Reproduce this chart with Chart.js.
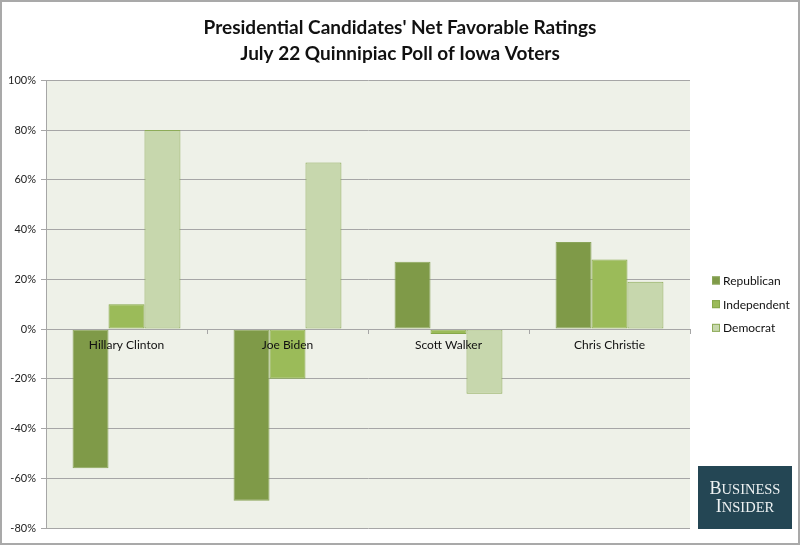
<!DOCTYPE html>
<html>
<head>
<meta charset="utf-8">
<script src="https://cdn.jsdelivr.net/npm/chart.js@4"></script>
<style>
    html, body { margin: 0; padding: 0; background: #ffffff; }
    #wrap { width: 800px; height: 545px; }
</style>
</head>
<body>
<div id="wrap"><canvas id="grafico" width="800" height="545"></canvas></div>
<script>
const candidatos = ['Hillary Clinton', 'Joe Biden', 'Scott Walker', 'Chris Christie'];
const republicanos = [-56, -69, 27, 35];
const independentes = [10, -20, -2, 28];
const democratas = [80, 67, -26, 19];
const ticksY = [-80, -60, -40, -20, 0, 20, 40, 60, 80, 100];
const titulo = ["Presidential Candidates' Net Favorable Ratings", 'July 22 Quinnipiac Poll of Iowa Voters'];

const fonte = 'Lato, "Open Sans", sans-serif';

const fundoPlot = {
    id: 'fundoPlot',
    beforeDraw(chart) {
        const area = chart.chartArea;
        const ctx = chart.ctx;
        ctx.save();
        ctx.fillStyle = '#eef1e8';
        ctx.fillRect(area.left, area.top, area.right - area.left, area.bottom - area.top);
        ctx.restore();
    }
};

// legenda desenhada à direita, centrada na área do gráfico
const legendaLateral = {
    id: 'legendaLateral',
    afterDraw(chart) {
        const ctx = chart.ctx;
        const area = chart.chartArea;
        const sets = chart.data.datasets;
        const passo = 23.7;
        const x = area.right + 22;
        let y = (area.top + area.bottom) / 2 - passo * (sets.length - 1) / 2;
        ctx.save();
        ctx.font = '12px ' + fonte;
        ctx.textBaseline = 'middle';
        sets.forEach(function (ds) {
            ctx.fillStyle = ds.backgroundColor;
            ctx.fillRect(x, y - 4, 8, 8);
            ctx.strokeStyle = ds.borderColor;
            ctx.lineWidth = 1;
            ctx.strokeRect(x + 0.5, y - 3.5, 7, 7);
            ctx.fillStyle = '#111111';
            ctx.fillText(ds.label, x + 11, y + 0.5);
            y += passo;
        });
        ctx.restore();
    }
};

const moldura = {
    id: 'moldura',
    afterDraw(chart) {
        const ctx = chart.ctx;
        ctx.save();
        ctx.strokeStyle = '#a9a9a9';
        ctx.lineWidth = 2;
        ctx.strokeRect(1, 1, chart.width - 2, chart.height - 2);

        // logo
        const x = 698, y = 466, w = 94, h = 63;
        ctx.fillStyle = '#244654';
        ctx.fillRect(x, y, w, h);
        ctx.fillStyle = '#eef2f3';
        ctx.textBaseline = 'alphabetic';
        function linha(grande, resto, base) {
            ctx.font = '18px "Liberation Serif", "DejaVu Serif", serif';
            const w1 = ctx.measureText(grande).width;
            ctx.font = '14.5px "Liberation Serif", "DejaVu Serif", serif';
            const w2 = ctx.measureText(resto).width;
            const inicio = x + (w - w1 - w2) / 2;
            ctx.font = '18px "Liberation Serif", "DejaVu Serif", serif';
            ctx.fillText(grande, inicio, base);
            ctx.font = '14.5px "Liberation Serif", "DejaVu Serif", serif';
            ctx.fillText(resto, inicio + w1, base);
        }
        linha('B', 'USINESS', y + 28);
        linha('I', 'NSIDER', y + 46);
        ctx.restore();
    }
};

new Chart(document.getElementById('grafico'), {
    type: 'bar',
    data: {
        labels: candidatos,
        datasets: [{
            label: 'Republican',
            data: republicanos,
            backgroundColor: '#7f9a48',
            borderColor: '#8aa55a',
            borderWidth: 1,
            borderSkipped: false
        }, {
            label: 'Independent',
            data: independentes,
            backgroundColor: '#9bbb59',
            borderColor: '#86a84a',
            borderWidth: 1,
            borderSkipped: false
        }, {
            label: 'Democrat',
            data: democratas,
            backgroundColor: '#c7d7ad',
            borderColor: '#8dab58',
            borderWidth: 1,
            borderSkipped: false
        }]
    },
    options: {
        responsive: false,
        animation: false,
        devicePixelRatio: 1,
        categoryPercentage: 0.67,
        barPercentage: 1,
        layout: {
            padding: { left: 0, right: 0, top: 0, bottom: 17 }
        },
        scales: {
            x: {
                position: { y: 0 },
                grid: {
                    drawOnChartArea: false,
                    offset: true,
                    tickLength: 4,
                    color: '#a6a6a6'
                },
                border: { color: '#a6a6a6', width: 1, z: 1 },
                ticks: {
                    z: 1,
                    color: '#111111',
                    font: { family: fonte, size: 12 },
                    padding: 5
                }
            },
            y: {
                min: -80,
                max: 100,
                afterBuildTicks(scale) {
                    scale.ticks = ticksY.map(function (v) { return { value: v }; });
                },
                afterFit(scale) {
                    scale.width = 46;
                },
                grid: {
                    color: '#a6a6a6',
                    tickLength: 5
                },
                border: { color: '#a6a6a6', width: 1 },
                ticks: {
                    color: '#222222',
                    font: { family: fonte, size: 11 },
                    padding: 5,
                    callback: function (v) { return v + '%'; }
                }
            },
            // eixo vazio que reserva o espaço da legenda
            espaco: {
                type: 'linear',
                position: 'right',
                min: -80,
                max: 100,
                grid: { display: false },
                border: { display: false },
                ticks: { display: false },
                afterFit(scale) {
                    scale.width = 110;
                }
            }
        },
        plugins: {
            title: {
                display: true,
                text: titulo,
                color: '#111111',
                font: { family: fonte, size: 19, weight: 'bold', lineHeight: 1.35 },
                padding: { top: 15, bottom: 14 }
            },
            legend: { display: false },
            tooltip: { enabled: false }
        }
    },
    plugins: [fundoPlot, legendaLateral, moldura]
});
</script>
</body>
</html>
